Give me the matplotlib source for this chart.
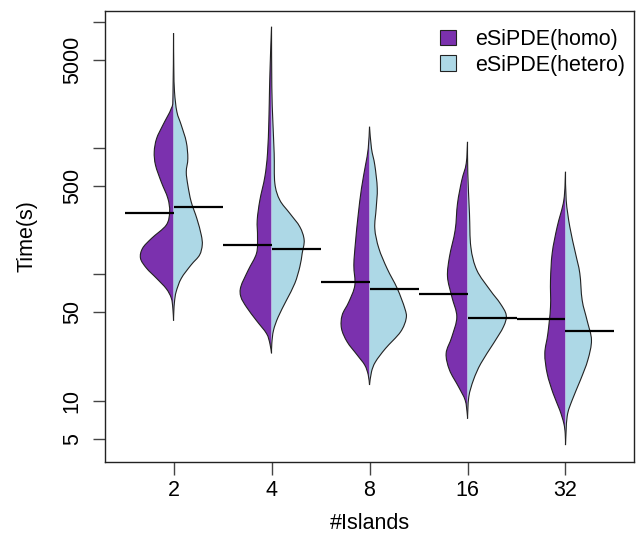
import numpy as np
import matplotlib
matplotlib.use("Agg")
import matplotlib.pyplot as plt
from matplotlib.path import Path
from matplotlib.patches import PathPatch, Patch

plt.rcParams['font.family'] = ['Liberation Sans', 'DejaVu Sans']

islands = ['2', '4', '8', '16', '32']
series_names = ['eSiPDE(homo)', 'eSiPDE(hetero)']

# median time per island count
homo_median = [306, 171, 87, 70, 44]
hetero_median = [341, 158, 76, 45, 35.6]

# density outline: time (s) and half width (x units), top to bottom
homo_time = [
    [8130, 2545, 2060, 1520, 1190, 935, 733, 541, 400, 313, 246, 193, 161, 134, 112, 93, 77, 65, 54, 43],
    [9130, 5620, 3060, 1665, 908, 593, 387, 269, 199, 147, 108, 80, 66.5, 55, 43, 34, 28.4, 23.7],
    [1475, 994, 733, 480, 294, 181, 118.5, 82, 60.6, 47.6, 37.3, 29.2, 23, 19.1, 16, 13.3],
    [1120, 757, 558, 365, 224, 138, 95.7, 66.5, 46.1, 32, 23.7, 17.5, 12.9, 10.1, 7.9, 7.2],
    [649, 387, 238, 147, 90, 55, 34, 23.7, 16.4, 11.4, 8.4, 6.6, 5.5, 4.45],
]
homo_width = [
    [0, .006, .023, .109, .173, .197, .184, .126, .058, .04, .074, .224, .316, .337, .276, .173, .074, .023, .007, 0],
    [0, .01, .02, .027, .041, .068, .119, .146, .143, .153, .238, .313, .313, .255, .153, .051, .017, 0],
    [0, .013, .041, .082, .116, .143, .16, .15, .211, .279, .286, .228, .126, .048, .013, 0],
    [0, .013, .058, .102, .126, .184, .204, .16, .109, .16, .218, .184, .092, .024, .003, 0],
    [0, .017, .085, .136, .153, .153, .18, .211, .187, .126, .058, .017, .003, 0],
]
hetero_time = [
    [8130, 4275, 2790, 1940, 1520, 1120, 828, 649, 509, 376, 277, 205, 171, 142, 119, 93, 73, 61, 51, 43],
    [9130, 3060, 1665, 908, 525, 387, 304, 238, 187, 147, 115, 85, 62.5, 46, 36, 28.4, 23.7],
    [1475, 994, 733, 480, 333, 231, 161, 111, 77.4, 53.8, 44.8, 35, 25.9, 20.3, 16.9, 13.3],
    [1120, 630, 304, 165, 108, 75, 59, 47.6, 38.5, 28.4, 19.7, 14.6, 10.7, 7.2],
    [649, 387, 238, 147, 102, 62.5, 43, 30.2, 21, 14.6, 10.1, 7.5, 4.45],
]
hetero_width = [
    [0, .003, .01, .034, .079, .13, .146, .13, .146, .18, .238, .283, .293, .265, .18, .079, .027, .01, .003, 0],
    [0, .003, .013, .027, .034, .085, .187, .289, .333, .313, .289, .238, .153, .068, .02, .003, 0],
    [0, .02, .054, .079, .068, .054, .095, .18, .283, .36, .374, .316, .163, .061, .02, 0],
    [0, .003, .02, .034, .095, .231, .333, .395, .367, .265, .136, .061, .013, 0],
    [0, .007, .044, .102, .146, .17, .221, .265, .228, .153, .068, .017, 0],
]

purple = '#7b31ae'
light = '#add8e6'


def smooth_verts(xs, ts):
    # catmull-rom -> bezier, done in log space so the log axis keeps it smooth
    pts = np.column_stack([xs, np.log10(ts)])
    n = len(pts)
    verts = [pts[0]]
    codes = [Path.MOVETO]
    for i in range(n - 1):
        p0 = pts[max(i - 1, 0)]
        p1 = pts[i]
        p2 = pts[i + 1]
        p3 = pts[min(i + 2, n - 1)]
        verts += [p1 + (p2 - p0) / 6, p2 - (p3 - p1) / 6, p2]
        codes += [Path.CURVE4] * 3
    verts = np.array(verts)
    verts[:, 1] = 10 ** verts[:, 1]
    return verts, codes


def half_violin(ax, pos, ts, ws, side, color):
    xs = pos + side * np.array(ws)
    verts, codes = smooth_verts(xs, ts)
    fill_verts = np.vstack([verts, [[pos, ts[-1]], [pos, ts[0]]]])
    fill_codes = codes + [Path.LINETO, Path.CLOSEPOLY]
    ax.add_patch(PathPatch(Path(fill_verts, fill_codes), facecolor=color,
                           edgecolor='none', lw=0, zorder=2))
    ax.add_patch(PathPatch(Path(verts, codes), facecolor='none',
                           edgecolor='#222222', lw=0.8, zorder=3))


fig = plt.figure(figsize=(6.36, 5.37), dpi=100)
ax = fig.add_axes([0.165, 0.1397, 0.832, 0.840])
ax.set_yscale('log')

for i in range(len(islands)):
    pos = i + 1
    half_violin(ax, pos, homo_time[i], homo_width[i], -1, purple)
    half_violin(ax, pos, hetero_time[i], hetero_width[i], 1, light)
    ax.hlines(homo_median[i], pos - 0.5, pos, color='black', lw=1.6, zorder=4)
    ax.hlines(hetero_median[i], pos, pos + 0.5, color='black', lw=1.6, zorder=4)

ax.set_xlim(0.3, 5.7)
ax.set_ylim(3.27, 12200)

ax.set_xticks(range(1, len(islands) + 1))
ax.set_xticklabels(islands)
yt = [5, 10, 50, 100, 500, 1000, 5000, 10000]
ax.set_yticks(yt)
ax.set_yticklabels(['5', '10', '50', '', '500', '', '5000', ''], rotation=90, va='center')
ax.minorticks_off()
ax.tick_params(axis='both', length=9, width=1, color='#444444', labelsize=15.5)
ax.tick_params(axis='y', pad=7)
ax.tick_params(axis='x', pad=4)
for s in ax.spines.values():
    s.set_color('#222222')
    s.set_linewidth(1)

ax.set_ylabel('Time(s)', fontsize=15.5)
ax.set_xlabel('#Islands', fontsize=15.5)
ax.yaxis.set_label_coords(-0.127, 0.5)
ax.xaxis.set_label_coords(0.5, -0.113)

handles = [Patch(facecolor=purple, edgecolor='#222222', lw=0.8),
           Patch(facecolor=light, edgecolor='#222222', lw=0.8)]
ax.legend(handles, series_names, loc='upper right', frameon=False, fontsize=15.5,
          handlelength=0.75, handleheight=0.7, handletextpad=0.85, labelspacing=0.2,
          borderaxespad=0.45, bbox_to_anchor=(1.017, 1.0))

fig.savefig('out.png', dpi=100)
